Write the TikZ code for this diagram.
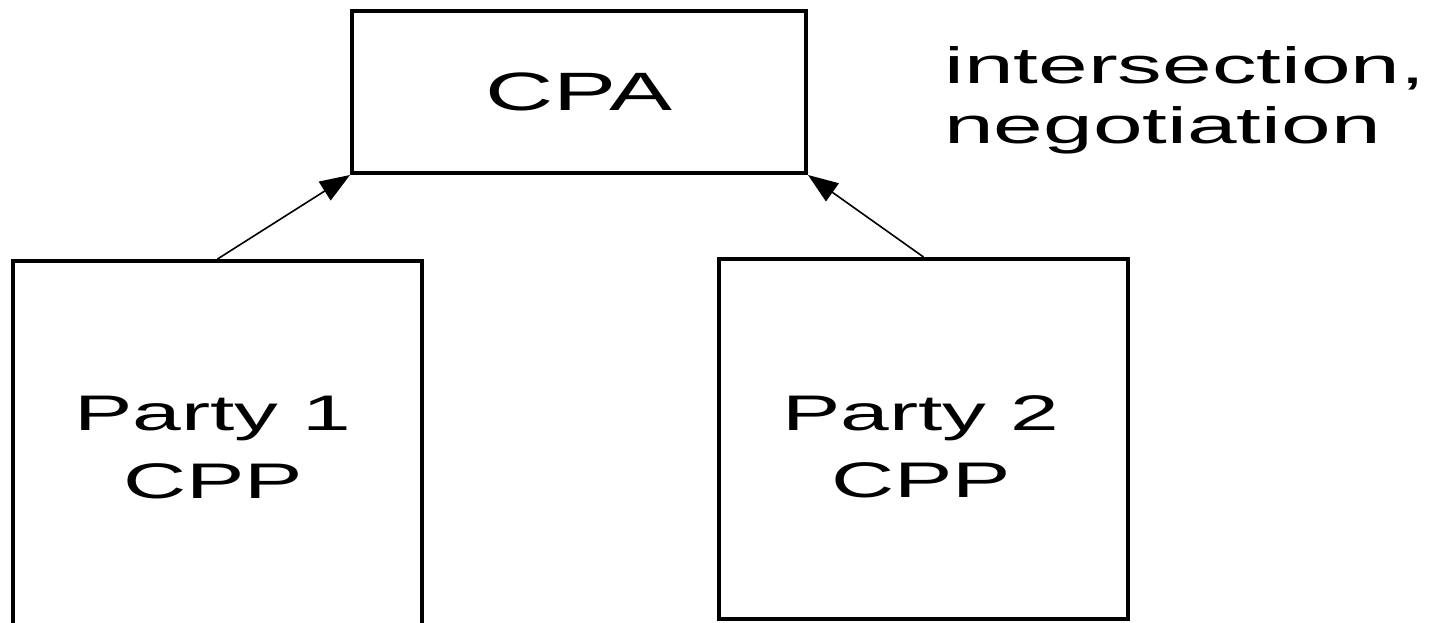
\documentclass[tikz,border=0pt]{standalone}
\usepackage{fontspec}
\newfontfamily\widesans[FakeStretch=1.75]{Liberation Sans}
\usetikzlibrary{arrows.meta}
\begin{document}
\begin{tikzpicture}[x=1pt,y=-1pt,
  box/.style={draw, line width=4pt, inner sep=0pt},
  txt/.style={inner sep=0pt, align=center},
  link/.style={line width=1.6pt, -{Triangle[length=30pt,width=22pt]}}]
\useasboundingbox (0,0) rectangle (1451,622);
\clip (0,0) rectangle (1451,622);

% agreement box
\node[box, minimum width=454pt, minimum height=162pt,
      font=\widesans\fontsize{54pt}{60pt}\selectfont] (cpa) at (579,92) {CPA};

% party boxes
\node[box, minimum width=409pt, minimum height=379pt] (p1) at (217.5,450.5) {};
\node[box, minimum width=409pt, minimum height=360pt] (p2) at (923.5,439) {};

\node[txt, font=\widesans\fontsize{50pt}{68pt}\selectfont] (p1t) at (213,448) {Party 1\\CPP};
\node[txt, font=\widesans\fontsize{50pt}{67pt}\selectfont] (p2t) at (921,447) {Party 2\\CPP};

% side note
\node[txt, align=left, anchor=north west,
      font=\widesans\fontsize{51pt}{60pt}\selectfont] (note) at (944,46) {intersection,\\negotiation};

% connectors
\draw[link] (p1.north) -- (cpa.south west);
\draw[link] (p2.north) -- (cpa.south east);
\end{tikzpicture}
\end{document}
